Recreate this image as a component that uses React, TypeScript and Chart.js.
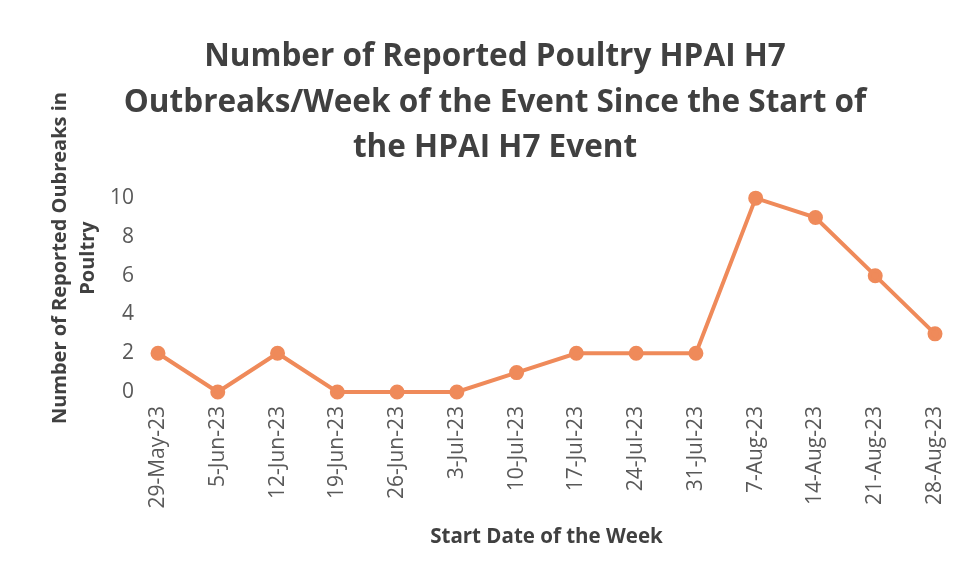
import React, { useEffect, useRef } from "react";
import { Chart, registerables } from "chart.js";

Chart.register(...registerables);

const categories = [
  "29-May-23", "5-Jun-23", "12-Jun-23", "19-Jun-23", "26-Jun-23", "3-Jul-23", "10-Jul-23",
  "17-Jul-23", "24-Jul-23", "31-Jul-23", "7-Aug-23", "14-Aug-23", "21-Aug-23", "28-Aug-23",
];
const outbreaks = [2, 0, 2, 0, 0, 0, 1, 2, 2, 2, 10, 9, 6, 3];
const yTickValues = [0, 2, 4, 6, 8, 10];
const titleLines = [
  "Number of Reported Poultry HPAI H7",
  "Outbreaks/Week of the Event Since the Start of",
  "the HPAI H7 Event",
];
const yTitleLines = ["Number of Reported Oubreaks in", "Poultry"];
const xTitle = "Start Date of the Week";

const FONT = '"Open Sans", "Liberation Sans", sans-serif';
const TEXT = "#404040";
const TICK = "#595959";
const ORANGE = "#EF8A5A";

const yTitlePlugin = {
  id: "yTitleLines",
  afterDraw(chart: any) {
    const { ctx, chartArea } = chart;
    ctx.save();
    ctx.font = `bold 20px ${FONT}`;
    ctx.fillStyle = TEXT;
    ctx.textAlign = "center";
    ctx.textBaseline = "middle";
    const cy = (chartArea.top + chartArea.bottom) / 2 - 37;
    yTitleLines.forEach((line, i) => {
      ctx.save();
      ctx.translate(60 + i * 28, cy);
      ctx.rotate(-Math.PI / 2);
      ctx.fillText(line, 0, 0);
      ctx.restore();
    });
    ctx.restore();
  },
};

export default function App() {
  const ref = useRef<HTMLCanvasElement | null>(null);
  useEffect(() => {
    if (!ref.current) return;
    const chart = new Chart(ref.current, {
      type: "line",
      data: {
        labels: categories,
        datasets: [
          {
            data: outbreaks,
            borderColor: ORANGE,
            backgroundColor: ORANGE,
            borderWidth: 4,
            pointRadius: 5.5,
            pointBackgroundColor: ORANGE,
            pointBorderColor: ORANGE,
            tension: 0,
            clip: false,
          },
        ],
      },
      options: {
        responsive: false,
        animation: false,
        layout: { padding: { left: 32, right: 0, top: 0, bottom: 0 } },
        plugins: {
          legend: { display: false },
          tooltip: { enabled: false },
          title: {
            display: true,
            text: titleLines,
            color: TEXT,
            font: { family: FONT, size: 31.5, weight: "bold", lineHeight: 1.43 },
            padding: { top: 35, bottom: 28 },
          },
        },
        scales: {
          x: {
            grid: { display: false, drawTicks: false },
            border: { display: false },
            ticks: {
              color: TICK,
              font: { family: FONT, size: 21 },
              minRotation: 90,
              maxRotation: 90,
              padding: 14,
              autoSkip: false,
            },
            title: {
              display: true,
              text: xTitle,
              color: TEXT,
              font: { family: FONT, size: 20.5, weight: "bold" },
              padding: { top: 0, bottom: 23 },
            },
            afterFit: (scale: any) => {
              scale.height = 180;
              scale.paddingRight = 23;
              scale.paddingLeft = 0;
            },
          },
          y: {
            min: 0,
            max: 10,
            grid: { display: false, drawTicks: false },
            border: { display: false },
            afterBuildTicks: (scale: any) => {
              scale.ticks = yTickValues.map((v) => ({ value: v }));
            },
            ticks: {
              color: TICK,
              font: { family: FONT, size: 21 },
              padding: 24,
            },
            afterFit: (scale: any) => {
              scale.width = 126;
            },
          },
        },
      },
      plugins: [yTitlePlugin],
    });
    return () => chart.destroy();
  }, []);
  return (
    <div style={{ position: "fixed", left: 0, top: 0, width: 958, height: 572, background: "#fff" }}>
      <canvas ref={ref} width={958} height={572} style={{ width: 958, height: 572, display: "block" }} />
    </div>
  );
}
